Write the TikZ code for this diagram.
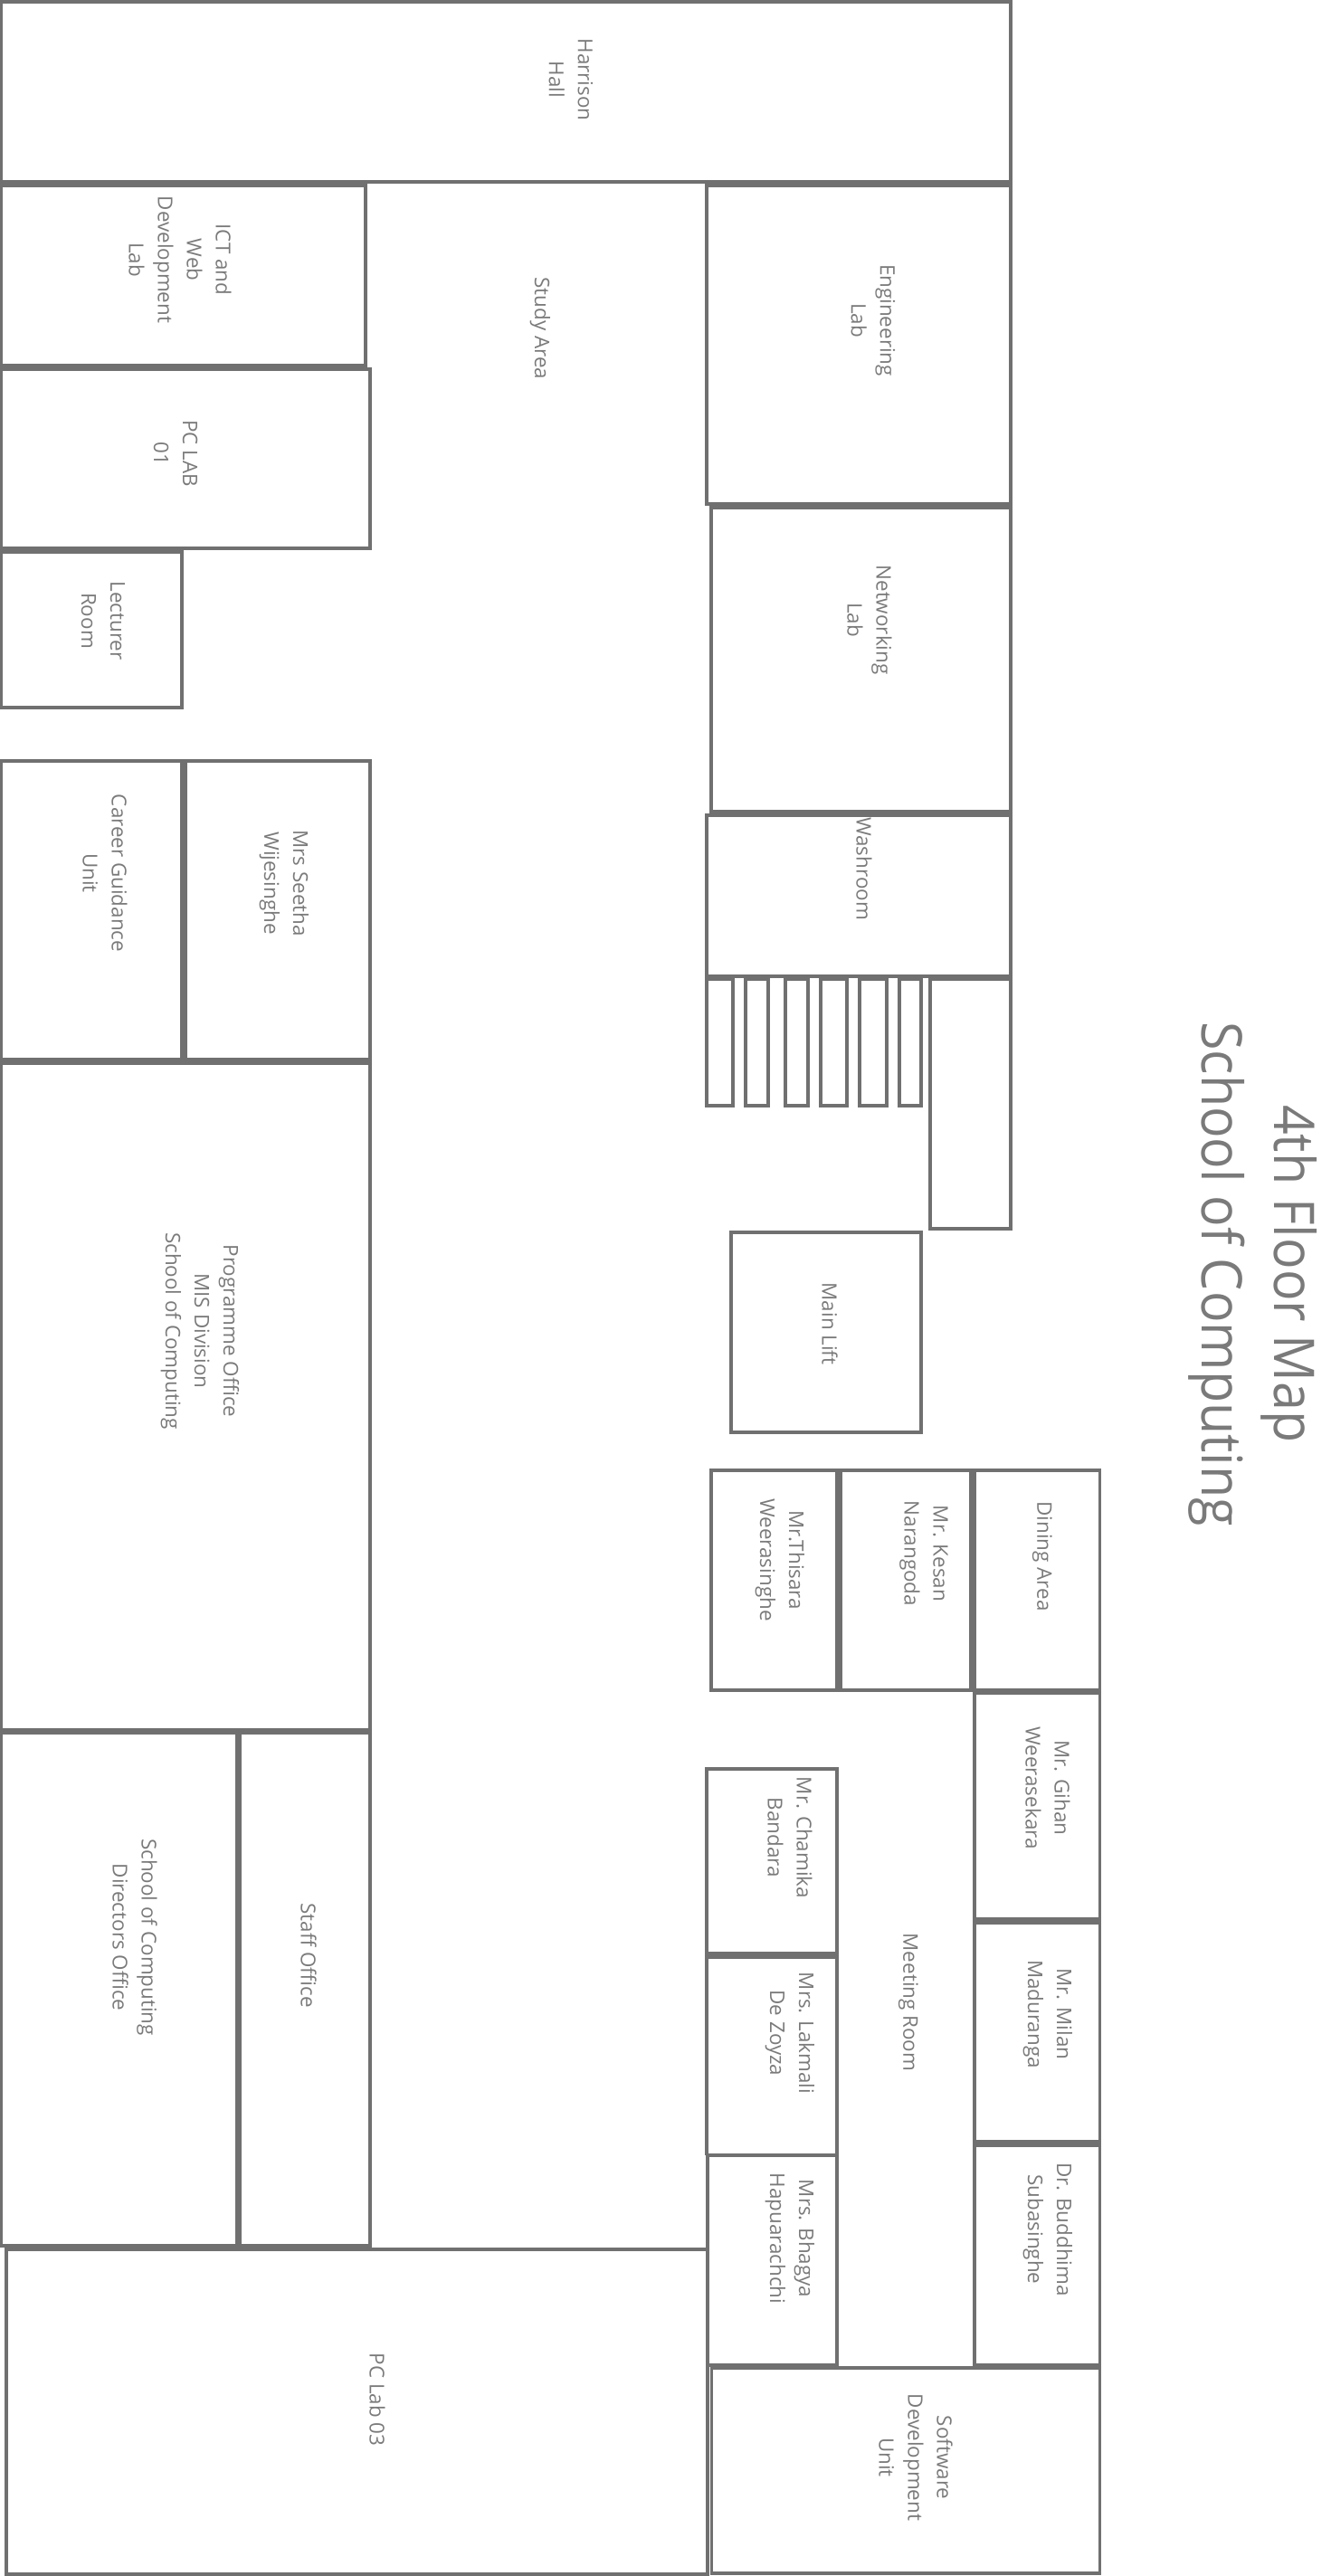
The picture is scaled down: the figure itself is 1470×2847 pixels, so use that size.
\documentclass[tikz,border=0pt]{standalone}
\usepackage{fontspec}
\setmainfont{Open Sans}
\newfontfamily\titlefont[FakeStretch=0.925]{Open Sans}
\usepackage{xcolor}
\definecolor{wallgrey}{HTML}{707070}
\definecolor{textgrey}{HTML}{7A7A7A}
\begin{document}
\begin{tikzpicture}[
    x=1pt, y=-1pt,
    room/.style={draw=wallgrey, line width=3.6pt, line join=miter},
    thinroom/.style={draw=wallgrey, line width=3.1pt, line join=miter},
    tag/.style={rotate=-90, align=center, inner sep=0pt, text=textgrey,
                font=\fontsize{22.4}{32}\selectfont},
    heading/.style={rotate=-90, align=center, inner sep=0pt, text=textgrey,
                    font=\titlefont\fontsize{62}{80}\selectfont}
]
\useasboundingbox (0,0) rectangle (1470,2847);
% left column
\draw[room] (1,2) rectangle (1117,201);
\draw[room] (1,205) rectangle (404,404);
\draw[room] (1,408) rectangle (409,606);
\draw[room] (1,610) rectangle (201,782);
\draw[room] (1,841) rectangle (201,1171);
\draw[room] (205,841) rectangle (409,1171);
\draw[room] (1,1175) rectangle (409,1912);
\draw[room] (1,1915) rectangle (262,2482);
\draw[room] (265,1915) rectangle (409,2482);
\draw[thinroom] (7,2486) rectangle (782,2845);
% right column
\draw[room] (781,205) rectangle (1117,557);
\draw[room] (786,561) rectangle (1117,897);
\draw[room] (781,901) rectangle (1117,1079);
\foreach \xa/\xb in {781/810,824/849,868/893,907/936,950/980,994/1018}
    \draw[room] (\xa,1082) rectangle (\xb,1222);
\draw[room] (1028,1082) rectangle (1117,1358);
\draw[room] (808,1362) rectangle (1018,1583);
\draw[room] (786,1625) rectangle (925,1868);
\draw[room] (929,1625) rectangle (1073,1868);
\draw[room] (1077,1625) rectangle (1215.5,1868);
\draw[room] (1077,1871) rectangle (1215.5,2121);
\draw[room] (1077,2125) rectangle (1215.5,2367);
\draw[room] (1077,2371) rectangle (1215.5,2614);
\draw[room] (781,1955) rectangle (925,2159);
\draw[room] (781,2382) -- (781,2163) -- (925,2163) -- (925,2382);
\draw[thinroom] (782,2382) rectangle (925,2614);
\draw[room] (786.5,2617) rectangle (1215.5,2844);
% labels
\node[tag] (harrison) at (631,88)   {Harrison\\Hall};
\node[tag] (ictlab)   at (199,287)  {ICT and\\Web\\Development\\Lab};
\node[tag] (study)    at (597,363)  {Study Area};
\node[tag] (englab)   at (965,354)  {Engineering\\Lab};
\node[tag] (pclab1)   at (194,501)  {PC LAB\\01};
\node[tag] (lecturer) at (114,686)  {Lecturer\\Room};
\node[tag] (netlab)   at (961,685)  {Networking\\Lab};
\node[tag] (washroom) at (955,960)  {Washroom};
\node[tag] (lift)     at (917,1463) {Main Lift};
\node[tag] (career)   at (116,965)  {Career Guidance\\Unit};
\node[tag] (seetha)   at (314,976)  {Mrs Seetha\\Wijesinghe};
\node[tag] (progoff)  at (221,1471) {Programme Office\\MIS Division\\School of Computing};
\node[tag] (director) at (149,2141) {School of Computing\\Directors Office};
\node[tag] (staff)    at (341,2161) {Staff Office};
\node[tag] (pclab3)   at (417,2652) {PC Lab 03};
\node[tag] (thisara)  at (862,1724) {Mr.Thisara\\Weerasinghe};
\node[tag] (kesan)    at (1021,1717) {Mr. Kesan\\Narangoda};
\node[tag] (dining)   at (1152,1720) {Dining Area};
\node[tag] (gihan)    at (1158,1976) {Mr. Gihan\\Weerasekara};
\node[tag] (milan)    at (1158,2226) {Mr. Milan\\Maduranga};
\node[tag] (buddhima) at (1158,2464) {Dr. Buddhima\\Subasinghe};
\node[tag] (meeting)  at (1004,2213) {Meeting Room};
\node[tag] (chamika)  at (873,2031) {Mr. Chamika\\Bandara};
\node[tag] (lakmali)  at (873,2247) {Mrs. Lakmali\\De Zoyza};
\node[tag] (bhagya)   at (873,2474) {Mrs. Bhagya\\Hapuarachchi};
\node[tag] (software) at (1012,2716) {Software\\Development\\Unit};
\node[heading] (title) at (1385,1408) {4th Floor Map\\School of Computing};
\end{tikzpicture}
\end{document}
